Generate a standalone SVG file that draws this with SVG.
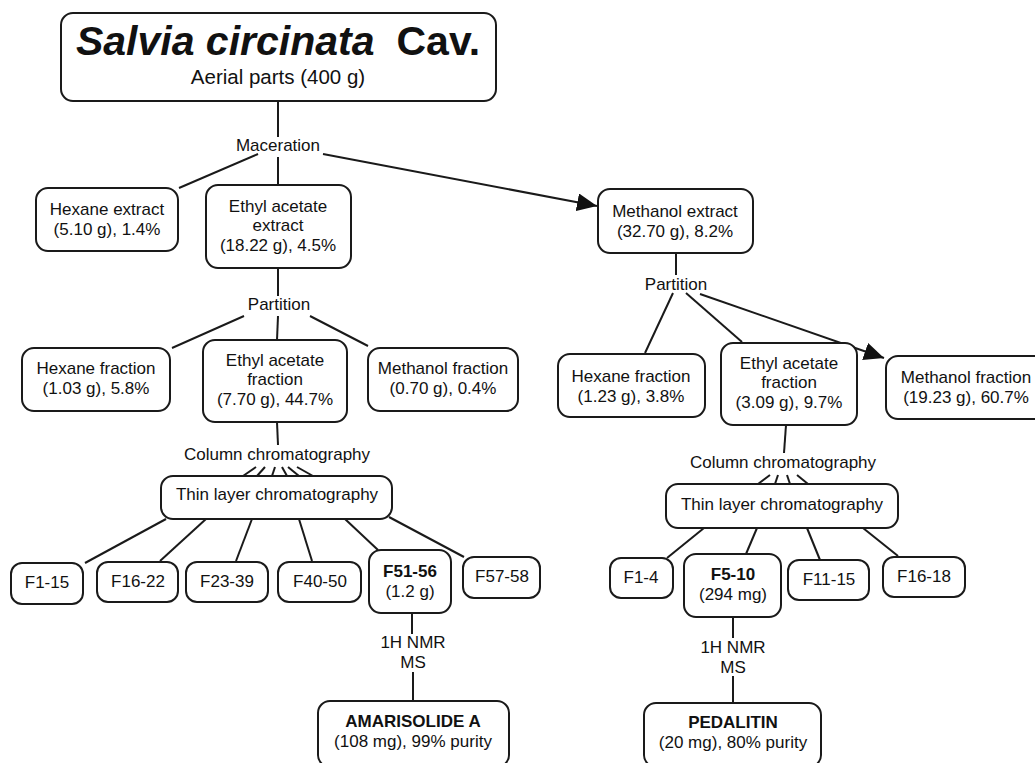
<svg xmlns="http://www.w3.org/2000/svg" width="1035" height="763" viewBox="0 0 1035 763">
<defs>
<style>
.box{fill:#fff;stroke:#1a1a1a;stroke-width:2}
.t{font-family:"Liberation Sans",Arial,sans-serif;font-size:17px;fill:#111;text-anchor:middle}
.b{font-weight:bold}
.ln{stroke:#1a1a1a;stroke-width:2;fill:none}
</style>
<marker id="arr" markerUnits="userSpaceOnUse" markerWidth="22" markerHeight="18" refX="20" refY="9" orient="auto">
<path d="M0,0 L20,9 L0,18 Z" fill="#111"/>
</marker>
</defs>
<rect width="1035" height="763" fill="#fff"/>

<g id="connectors">
<line class="ln" x1="278" y1="101" x2="278" y2="137"/>
<line class="ln" x1="278" y1="157" x2="278" y2="185"/>
<line class="ln" x1="258" y1="154" x2="179" y2="188"/>
<line class="ln" x1="323" y1="154" x2="597" y2="206" marker-end="url(#arr)"/>
<line class="ln" x1="278" y1="268" x2="278" y2="296"/>
<line class="ln" x1="244" y1="316" x2="172" y2="348"/>
<line class="ln" x1="278" y1="316" x2="277" y2="340"/>
<line class="ln" x1="310" y1="316" x2="368" y2="346"/>
<line class="ln" x1="277" y1="422" x2="278" y2="445"/>
<line class="ln" x1="256" y1="467" x2="243" y2="476"/>
<line class="ln" x1="265" y1="467" x2="257" y2="476"/>
<line class="ln" x1="275" y1="467" x2="272" y2="476"/>
<line class="ln" x1="282" y1="467" x2="287" y2="476"/>
<line class="ln" x1="288" y1="467" x2="299" y2="476"/>
<line class="ln" x1="297" y1="467" x2="313" y2="476"/>
<line class="ln" x1="166" y1="519" x2="85" y2="563"/>
<line class="ln" x1="206" y1="519" x2="160" y2="561"/>
<line class="ln" x1="252" y1="519" x2="236" y2="561"/>
<line class="ln" x1="299" y1="519" x2="312" y2="561"/>
<line class="ln" x1="345" y1="519" x2="378" y2="550"/>
<line class="ln" x1="389" y1="517" x2="464" y2="557"/>
<line class="ln" x1="412" y1="613" x2="412" y2="634"/>
<line class="ln" x1="413" y1="672" x2="413" y2="701"/>
<line class="ln" x1="676" y1="253" x2="676" y2="275"/>
<line class="ln" x1="673" y1="293" x2="645" y2="353"/>
<line class="ln" x1="686" y1="293" x2="742" y2="342"/>
<line class="ln" x1="700" y1="294" x2="884" y2="358" marker-end="url(#arr)"/>
<line class="ln" x1="786" y1="425" x2="784" y2="453"/>
<line class="ln" x1="770" y1="475" x2="758" y2="484"/>
<line class="ln" x1="778" y1="475" x2="775" y2="484"/>
<line class="ln" x1="787" y1="475" x2="790" y2="484"/>
<line class="ln" x1="797" y1="475" x2="808" y2="484"/>
<line class="ln" x1="704" y1="528" x2="667" y2="558"/>
<line class="ln" x1="757" y1="528" x2="746" y2="554"/>
<line class="ln" x1="807" y1="528" x2="820" y2="560"/>
<line class="ln" x1="863" y1="528" x2="898" y2="556"/>
<line class="ln" x1="733" y1="617" x2="733" y2="638"/>
<line class="ln" x1="733" y1="676" x2="733" y2="703"/>
</g>

<g id="labels">
<text class="t" x="278" y="151">Maceration</text>
<text class="t" x="279" y="310">Partition</text>
<text class="t" x="277" y="460">Column chromatography</text>
<text class="t" x="413" y="648">1H NMR</text>
<text class="t" x="413" y="668">MS</text>
<text class="t" x="676" y="290">Partition</text>
<text class="t" x="783" y="468">Column chromatography</text>
<text class="t" x="733" y="653">1H NMR</text>
<text class="t" x="733" y="673">MS</text>
</g>

<g id="title">
<rect class="box" x="61" y="13" width="435" height="88" rx="12"/>
<text class="t b" x="278" y="55" style="font-size:41px"><tspan font-style="italic">Salvia circinata</tspan><tspan dx="22">Cav.</tspan></text>
<text class="t" x="278" y="84" style="font-size:20.5px">Aerial parts (400 g)</text>
</g>

<g id="hexane-extract">
<rect class="box" x="36" y="188" width="142" height="63" rx="12"/>
<text class="t" x="107" y="215">Hexane extract</text>
<text class="t" x="107" y="235">(5.10 g), 1.4%</text>
</g>

<g id="ethyl-acetate-extract">
<rect class="box" x="206" y="185" width="145" height="83" rx="12"/>
<text class="t" x="278" y="212">Ethyl acetate</text>
<text class="t" x="278" y="231">extract</text>
<text class="t" x="278" y="251">(18.22 g), 4.5%</text>
</g>

<g id="methanol-extract">
<rect class="box" x="598" y="189" width="155" height="64" rx="12"/>
<text class="t" x="675" y="217">Methanol extract</text>
<text class="t" x="675" y="237">(32.70 g), 8.2%</text>
</g>

<g id="hexane-fraction-left">
<rect class="box" x="22" y="348" width="148" height="63" rx="12"/>
<text class="t" x="96" y="374">Hexane fraction</text>
<text class="t" x="96" y="394">(1.03 g), 5.8%</text>
</g>

<g id="ethyl-acetate-fraction-left">
<rect class="box" x="203" y="340" width="144" height="82" rx="12"/>
<text class="t" x="275" y="366">Ethyl acetate</text>
<text class="t" x="275" y="385">fraction</text>
<text class="t" x="275" y="405">(7.70 g), 44.7%</text>
</g>

<g id="methanol-fraction-left">
<rect class="box" x="368" y="348" width="150" height="63" rx="12"/>
<text class="t" x="443" y="374">Methanol fraction</text>
<text class="t" x="443" y="394">(0.70 g), 0.4%</text>
</g>

<g id="tlc-left">
<rect class="box" x="161" y="476" width="231" height="43" rx="12"/>
<text class="t" x="277" y="500">Thin layer chromatography</text>
</g>

<g id="f1-15">
<rect class="box" x="11" y="563" width="72" height="41" rx="11"/>
<text class="t" x="47" y="588">F1-15</text>
</g>
<g id="f16-22">
<rect class="box" x="97" y="562" width="81" height="40" rx="11"/>
<text class="t" x="138" y="587">F16-22</text>
</g>
<g id="f23-39">
<rect class="box" x="186" y="562" width="82" height="40" rx="11"/>
<text class="t" x="227" y="587">F23-39</text>
</g>
<g id="f40-50">
<rect class="box" x="278" y="562" width="83" height="40" rx="11"/>
<text class="t" x="320" y="587">F40-50</text>
</g>
<g id="f51-56">
<rect class="box" x="369" y="550" width="82" height="63" rx="12"/>
<text class="t b" x="410" y="577">F51-56</text>
<text class="t" x="410" y="597">(1.2 g)</text>
</g>
<g id="f57-58">
<rect class="box" x="463" y="557" width="77" height="41" rx="11"/>
<text class="t" x="502" y="582">F57-58</text>
</g>

<g id="amarisolide-a">
<rect class="box" x="318" y="701" width="191" height="66" rx="12"/>
<text class="t b" x="413" y="727">AMARISOLIDE A</text>
<text class="t" x="413" y="747">(108 mg), 99% purity</text>
</g>

<g id="hexane-fraction-right">
<rect class="box" x="558" y="354" width="147" height="63" rx="12"/>
<text class="t" x="631" y="382">Hexane fraction</text>
<text class="t" x="631" y="402">(1.23 g), 3.8%</text>
</g>

<g id="ethyl-acetate-fraction-right">
<rect class="box" x="721" y="343" width="136" height="82" rx="12"/>
<text class="t" x="789" y="369">Ethyl acetate</text>
<text class="t" x="789" y="388">fraction</text>
<text class="t" x="789" y="408">(3.09 g), 9.7%</text>
</g>

<g id="methanol-fraction-right">
<rect class="box" x="886" y="356" width="160" height="63" rx="12"/>
<text class="t" x="966" y="383">Methanol fraction</text>
<text class="t" x="966" y="403">(19.23 g), 60.7%</text>
</g>

<g id="tlc-right">
<rect class="box" x="666" y="484" width="232" height="44" rx="12"/>
<text class="t" x="782" y="510">Thin layer chromatography</text>
</g>

<g id="f1-4">
<rect class="box" x="610" y="558" width="63" height="40" rx="11"/>
<text class="t" x="641" y="583">F1-4</text>
</g>
<g id="f5-10">
<rect class="box" x="684" y="554" width="97" height="63" rx="12"/>
<text class="t b" x="733" y="580">F5-10</text>
<text class="t" x="733" y="600">(294 mg)</text>
</g>
<g id="f11-15">
<rect class="box" x="788" y="560" width="81" height="40" rx="11"/>
<text class="t" x="829" y="585">F11-15</text>
</g>
<g id="f16-18">
<rect class="box" x="883" y="557" width="82" height="40" rx="11"/>
<text class="t" x="924" y="582">F16-18</text>
</g>

<g id="pedalitin">
<rect class="box" x="644" y="703" width="177" height="64" rx="12"/>
<text class="t b" x="733" y="728">PEDALITIN</text>
<text class="t" x="733" y="748">(20 mg), 80% purity</text>
</g>
</svg>
